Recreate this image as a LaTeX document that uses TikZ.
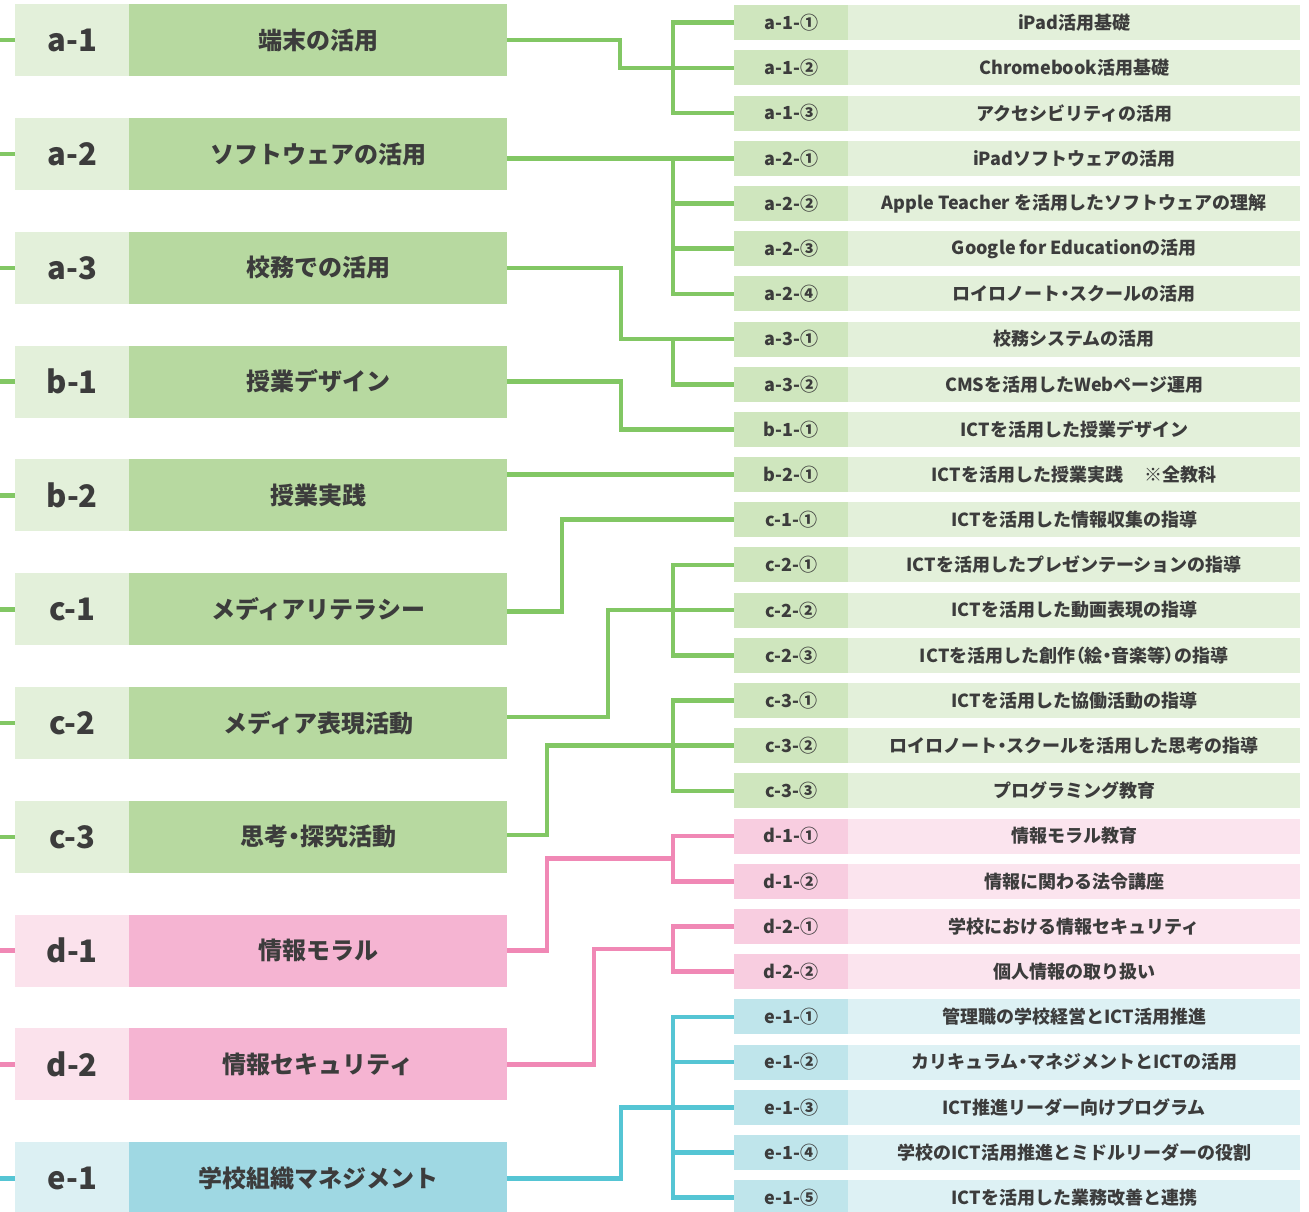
\documentclass[tikz,border=0pt]{standalone}
\usepackage{fontspec}
\setmainfont{Noto Sans CJK JP}
\usetikzlibrary{calc}
\newcommand\pa[1]{{\addfontfeatures{RawFeature=+palt}#1}}
\definecolor{txt}{HTML}{3C3C3C}
\definecolor{gline}{HTML}{82C764}
\definecolor{glc}{HTML}{E3F0DA}
\definecolor{glb}{HTML}{B7D9A0}
\definecolor{grc}{HTML}{CFE6BE}
\definecolor{grl}{HTML}{E3F0DA}
\definecolor{pline}{HTML}{F088B5}
\definecolor{plc}{HTML}{FBE2EC}
\definecolor{plb}{HTML}{F5B4D2}
\definecolor{prc}{HTML}{F8CDE0}
\definecolor{prl}{HTML}{FBE4EE}
\definecolor{bline}{HTML}{55C5D4}
\definecolor{blc}{HTML}{DCF0F3}
\definecolor{blb}{HTML}{9FD8E3}
\definecolor{brc}{HTML}{BFE5EB}
\definecolor{brl}{HTML}{DDF1F4}
\tikzset{
  lcode/.style={anchor=north west,inner sep=0pt,minimum width=114pt,minimum height=72pt,text=txt,font=\fontsize{31}{31}\selectfont\bfseries},
  llab/.style={anchor=north west,inner sep=0pt,minimum width=378pt,minimum height=72pt,text=txt,font=\fontsize{24}{24}\selectfont\bfseries},
  rcode/.style={anchor=north west,inner sep=0pt,minimum width=114pt,minimum height=35pt,text=txt,font=\fontsize{18}{18}\selectfont\bfseries},
  rlab/.style={anchor=north west,inner sep=0pt,minimum width=452pt,minimum height=35pt,text=txt,font=\fontsize{18}{18}\selectfont\bfseries},
  conn/.style={line width=4.6pt,line join=miter},
}
\newcommand\Litem[5]{%
  \node[lcode,fill=#5lc] (#1c) at (15,{4+113.8*#2}) {#3};
  \node[llab,fill=#5lb] (#1) at (129,{4+113.8*#2}) {#4};
  \draw[conn,#5line] (#1c.west) -- ++(-15,0);
}
\newcommand\Ritem[5]{%
  \node[rcode,fill=#5rc] (#1) at (734,{5+45.19*#2}) {#3};
  \node[rlab,fill=#5rl] (#1t) at (848,{5+45.19*#2}) {#4};
}
\begin{document}
\begin{tikzpicture}[x=1pt,y=-1pt]
\fill[white] (0,0) rectangle (1309,1212);
\useasboundingbox (0,0) rectangle (1309,1212);
% left
\Litem{La1}{0}{a-1}{端末の活用}{g}
\Litem{La2}{1}{a-2}{ソフトウェアの活用}{g}
\Litem{La3}{2}{a-3}{校務での活用}{g}
\Litem{Lb1}{3}{b-1}{授業デザイン}{g}
\Litem{Lb2}{4}{b-2}{授業実践}{g}
\Litem{Lc1}{5}{c-1}{メディアリテラシー}{g}
\Litem{Lc2}{6}{c-2}{メディア表現活動}{g}
\Litem{Lc3}{7}{c-3}{思考\pa{・}探究活動}{g}
\Litem{Ld1}{8}{d-1}{情報モラル}{p}
\Litem{Ld2}{9}{d-2}{情報セキュリティ}{p}
\Litem{Le1}{10}{e-1}{学校組織マネジメント}{b}
% right
\Ritem{Ra11}{0}{a-1-①}{iPad活用基礎}{g}
\Ritem{Ra12}{1}{a-1-②}{Chromebook活用基礎}{g}
\Ritem{Ra13}{2}{a-1-③}{アクセシビリティの活用}{g}
\Ritem{Ra21}{3}{a-2-①}{iPadソフトウェアの活用}{g}
\Ritem{Ra22}{4}{a-2-②}{Apple Teacher を活用したソフトウェアの理解}{g}
\Ritem{Ra23}{5}{a-2-③}{Google for Educationの活用}{g}
\Ritem{Ra24}{6}{a-2-④}{ロイロノート\pa{・}スクールの活用}{g}
\Ritem{Ra31}{7}{a-3-①}{校務システムの活用}{g}
\Ritem{Ra32}{8}{a-3-②}{CMSを活用したWebページ運用}{g}
\Ritem{Rb11}{9}{b-1-①}{ICTを活用した授業デザイン}{g}
\Ritem{Rb21}{10}{b-2-①}{ICTを活用した授業実践\hspace{1.2em}※全教科}{g}
\Ritem{Rc11}{11}{c-1-①}{ICTを活用した情報収集の指導}{g}
\Ritem{Rc21}{12}{c-2-①}{ICTを活用したプレゼンテーションの指導}{g}
\Ritem{Rc22}{13}{c-2-②}{ICTを活用した動画表現の指導}{g}
\Ritem{Rc23}{14}{c-2-③}{ICTを活用した創作\pa{（}絵\pa{・}音楽等\pa{）}の指導}{g}
\Ritem{Rc31}{15}{c-3-①}{ICTを活用した協働活動の指導}{g}
\Ritem{Rc32}{16}{c-3-②}{ロイロノート\pa{・}スクールを活用した思考の指導}{g}
\Ritem{Rc33}{17}{c-3-③}{プログラミング教育}{g}
\Ritem{Rd11}{18}{d-1-①}{情報モラル教育}{p}
\Ritem{Rd12}{19}{d-1-②}{情報に関わる法令講座}{p}
\Ritem{Rd21}{20}{d-2-①}{学校における情報セキュリティ}{p}
\Ritem{Rd22}{21}{d-2-②}{個人情報の取り扱い}{p}
\Ritem{Re11}{22}{e-1-①}{管理職の学校経営とICT活用推進}{b}
\Ritem{Re12}{23}{e-1-②}{カリキュラム\pa{・}マネジメントとICTの活用}{b}
\Ritem{Re13}{24}{e-1-③}{ICT推進リーダー向けプログラム}{b}
\Ritem{Re14}{25}{e-1-④}{学校のICT活用推進とミドルリーダーの役割}{b}
\Ritem{Re15}{26}{e-1-⑤}{ICTを活用した業務改善と連携}{b}
% buses
\begin{scope}[conn,gline]
\draw (Ra11.west) -- ++(-61,0) |- (Ra13.west);
\draw (Ra21.west) -- ++(-61,0) |- (Ra24.west);
\draw (Ra22.west) -- ++(-61,0);
\draw (Ra23.west) -- ++(-61,0);
\draw (Ra31.west) -- ++(-61,0) |- (Ra32.west);
\draw (Rc21.west) -- ++(-61,0) |- (Rc23.west);
\draw (Rc31.west) -- ++(-61,0) |- (Rc33.west);
\draw (La1.east) -| ([xshift=-114pt]Ra12.west) -- (Ra12.west);
\draw (La2.east |- Ra21.west) -- (Ra21.west);
\draw (La3.east) -| ([xshift=-113pt]Ra31.west) -- (Ra31.west);
\draw (Lb1.east) -| ([xshift=-113pt]Rb11.west) -- (Rb11.west);
\draw (Lb2.east |- Rb21.west) -- (Rb21.west);
\draw ([yshift=-2pt]Lc1.east) -| ([xshift=-172pt]Rc11.west) -- (Rc11.west);
\draw ([yshift=6pt]Lc2.east) -| ([xshift=-126pt]Rc22.west) -- (Rc22.west);
\draw ([yshift=2pt]Lc3.east) -| ([xshift=-187pt]Rc32.west) -- (Rc32.west);
\end{scope}
\begin{scope}[conn,pline]
\draw (Rd11.west) -- ++(-61,0) |- (Rd12.west);
\draw (Rd21.west) -- ++(-61,0) |- (Rd22.west);
\coordinate (bd1) at ($(Rd11.west)!.5!(Rd12.west)+(-61,0)$);
\coordinate (bd2) at ($(Rd21.west)!.5!(Rd22.west)+(-61,0)$);
\draw (Ld1.east) -| ([xshift=-126pt]bd1) -- (bd1);
\draw (Ld2.east) -| ([xshift=-79pt]bd2) -- (bd2);
\end{scope}
\begin{scope}[conn,bline]
\draw (Re11.west) -- ++(-61,0) |- (Re15.west);
\draw (Re12.west) -- ++(-61,0);
\draw (Re14.west) -- ++(-61,0);
\draw (Le1.east) -| ([xshift=-113pt]Re13.west) -- (Re13.west);
\end{scope}
\end{tikzpicture}
\end{document}
